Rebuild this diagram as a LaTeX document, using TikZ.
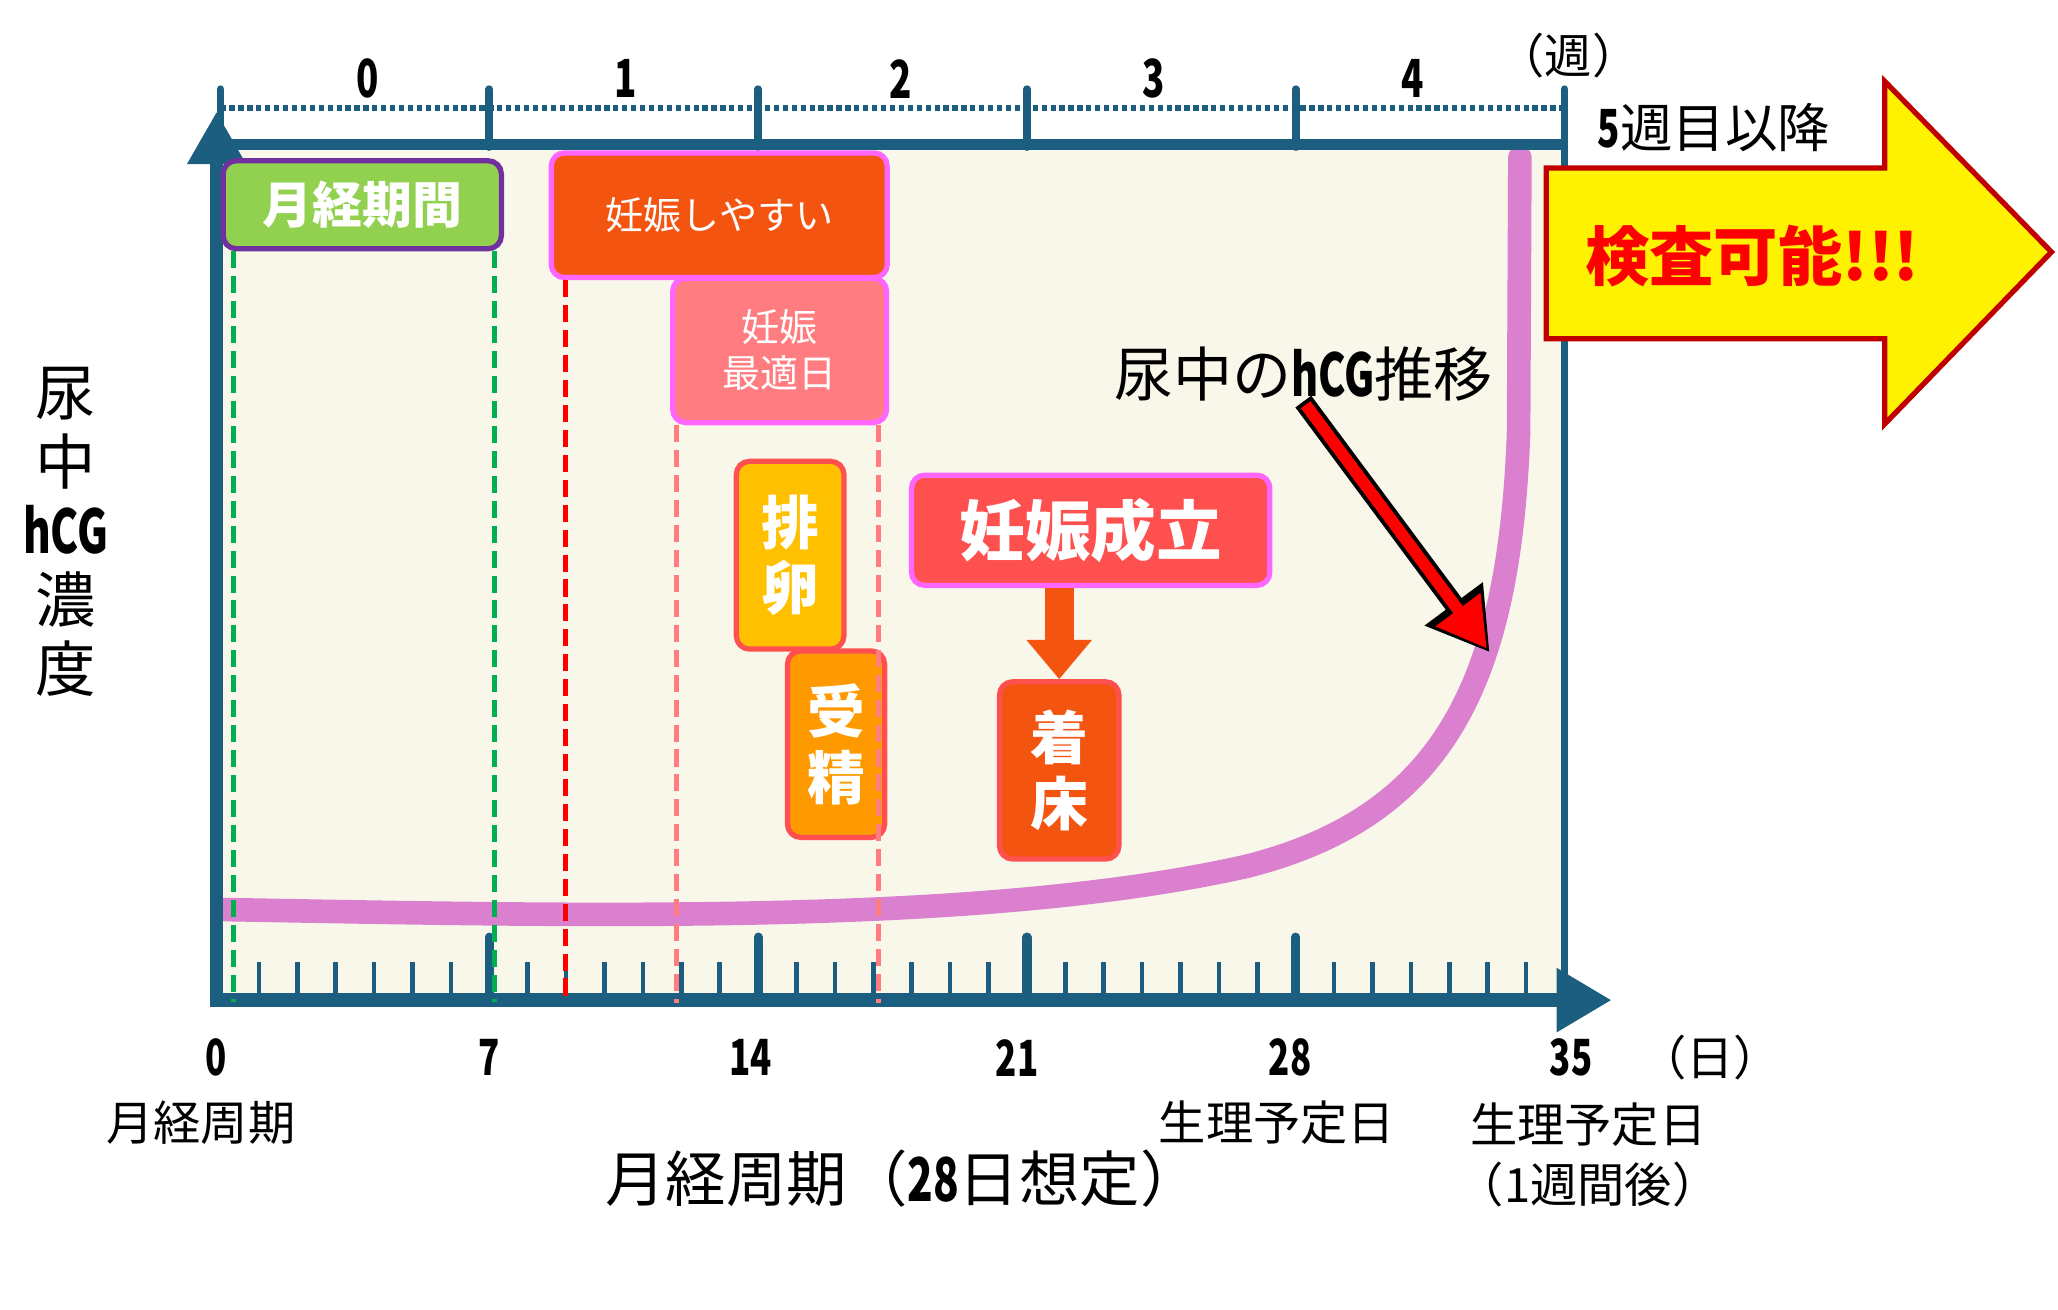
\documentclass[tikz,border=0pt]{standalone}
\usepackage{fontspec}
\setmainfont{Noto Sans CJK JP}
\usepackage{graphicx}
\usetikzlibrary{arrows.meta}

\definecolor{axisblue}{RGB}{27,94,128}
\definecolor{cream}{RGB}{248,247,234}
\definecolor{leafgreen}{RGB}{146,208,80}
\definecolor{violet}{RGB}{112,48,160}
\definecolor{burnt}{RGB}{243,84,16}
\definecolor{pinkline}{RGB}{255,102,255}
\definecolor{salmon}{RGB}{255,124,128}
\definecolor{amber}{RGB}{255,192,0}
\definecolor{tomato}{RGB}{255,80,80}
\definecolor{tangerine}{RGB}{255,153,0}
\definecolor{orchid}{RGB}{218,128,207}
\definecolor{darkred}{RGB}{192,0,0}
\definecolor{dashgreen}{RGB}{0,176,80}

\newcommand{\fs}[2]{\fontsize{#1}{#2}\selectfont}
\newcommand{\cnum}[1]{\scalebox{0.7}[1]{\bfseries #1}}

\begin{document}
\begin{tikzpicture}[x=1pt, y=-1pt,
    lbl/.style={inner sep=0pt, align=center},
    box/.style={rounded corners=10pt, text=white, align=center, inner sep=0pt, line width=4pt},
    guide/.style={line width=4pt, dash pattern=on 13pt off 6pt},
    minor/.style={axisblue, line width=3.5pt},
    major/.style={axisblue, line width=7pt, line cap=round}]
    \useasboundingbox (0,0) rectangle (1568,998);
    \fill[cream] (168,110) rectangle (1192,762);

    \foreach \d in {1,...,34} \draw[minor] ({168+29.257*\d},733) -- ({168+29.257*\d},762);
    \foreach \d in {7,14,21,28} \draw[major] ({168+29.257*\d},714) -- ({168+29.257*\d},762);
    \foreach \i in {0,...,5} \draw[major, line width=6pt] ({168+204.8*\i},68) -- ({168+204.8*\i},112);

    \coordinate (peak) at (1135,497);
    \draw[orchid, line width=18pt, line cap=round] (172,693) .. controls (450,698) and (750,705) .. (950,660)
        .. controls (1100,622) and (1150,520) .. (1157,330) -- (1158,120);

    \draw[axisblue, line width=4.5pt, dash pattern=on 4pt off 2.8pt] (168,82) -- (1192,82);
    \draw[axisblue, line width=8pt] (165,110) -- (1192,110);
    \draw[axisblue, line width=6pt] (1192,82) -- (1192,762);
    \draw[axisblue, line width=10pt, -{Triangle[length=40pt,width=42pt]}] (165,767) -- (165,85);
    \draw[axisblue, line width=11pt, -{Triangle[length=42pt,width=46pt]}] (160,762) -- (1228,762);

    \node[box, fill=leafgreen, draw=violet, minimum width=212pt, minimum height=67pt, font=\fs{38}{40}\bfseries] (kikan) at (276,156) {月経期間};
    \node[box, fill=burnt, draw=pinkline, minimum width=256pt, minimum height=95pt, font=\fs{29}{32}] (yasui) at (548,164) {妊娠しやすい};
    \node[box, fill=salmon, draw=pinkline, minimum width=163pt, minimum height=110pt, font=\fs{29}{35}] (saiteki) at (594,267) {妊娠\\最適日};
    \node[box, fill=amber, draw=tomato, minimum width=82pt, minimum height=143pt, font=\fs{44}{50}\bfseries] (hairan) at (602,423) {排\\卵};
    \node[box, fill=tangerine, draw=tomato, minimum width=74pt, minimum height=142pt, font=\fs{44}{50}\bfseries] (jusei) at (637,567) {受\\精};
    \node[box, fill=tomato, draw=pinkline, minimum width=273pt, minimum height=84pt, font=\fs{50}{52}\bfseries] (seiritsu) at (831,404) {妊娠成立};
    \node[box, fill=burnt, draw=tomato, minimum width=91pt, minimum height=135pt, font=\fs{44}{50}\bfseries] (chakushou) at (807,587) {着\\床};
    \draw[burnt, line width=22pt, -{Triangle[length=30pt,width=48pt]}] (seiritsu.south -| chakushou.north) -- (chakushou.north);

    \draw[guide, dashgreen] ([xshift=10pt]kikan.south west) -- ++(0,572);
    \draw[guide, dashgreen] ([xshift=-7pt]kikan.south east) -- ++(0,572);
    \draw[guide, red] ([xshift=13pt]yasui.south west) -- ++(0,550);
    \draw[guide, salmon] ([xshift=5pt]saiteki.south west) -- ++(0,440);
    \draw[guide, salmon] ([xshift=-8pt]saiteki.south east) -- ++(0,440);

    \node[lbl, font=\fs{45}{47}] (suii) at (993,285) {尿中の\cnum{hCG}推移};
    \draw[line width=15pt, -{Triangle[length=46pt,width=52pt]}] (suii.south) -- (peak);
    \draw[red, line width=9pt, shorten <=3pt, shorten >=3.5pt, -{Triangle[length=37pt,width=40pt]}] (suii.south) -- (peak);

    \filldraw[fill=yellow, draw=darkred, line width=4pt, line join=miter] (1178,128) -- (1436,128) -- (1436,62) -- (1563,192)
        -- (1436,323) -- (1436,258) -- (1178,258) -- cycle;
    \node[lbl, text=red, font=\fs{49}{51}\bfseries] (kensa) at (1335,195) {検査可能!!!};
    \node[lbl, font=\fs{40}{42}] (ikou) at (1306,97) {\cnum{5}週目以降};

    \foreach \w/\x in {0/280,1/477,2/686,3/879,4/1076} \node[lbl, font=\fs{40}{42}] (w\w) at (\x,60) {\cnum{\w}};
    \node[lbl, font=\fs{36}{38}] (shu) at (1195,42) {（週）};

    \foreach \n/\x in {0/165,7/373,14/572,21/775,28/983,35/1197} \node[lbl, font=\fs{38}{40}] (d\n) at (\x,806) {\cnum{\n}};
    \node[lbl, font=\fs{36}{38}] (nichi) at (1303,806) {（日）};
    \node[lbl, font=\fs{36}{38}] (shuuki) at (153,855) {月経周期};
    \node[lbl, font=\fs{36}{38}] (yotei) at (973,855) {生理予定日};
    \node[lbl, font=\fs{36}{46}] (yotei2) at (1210,880) {生理予定日\\（1週間後）};
    \node[lbl, font=\fs{46}{48}] (xlabel) at (688,898) {月経周期（\cnum{28}日想定）};
    \node[lbl, font=\fs{46}{52.5}] (ylabel) at (50,405) {尿\\中\\\cnum{hCG}\\濃\\度};
\end{tikzpicture}
\end{document}
